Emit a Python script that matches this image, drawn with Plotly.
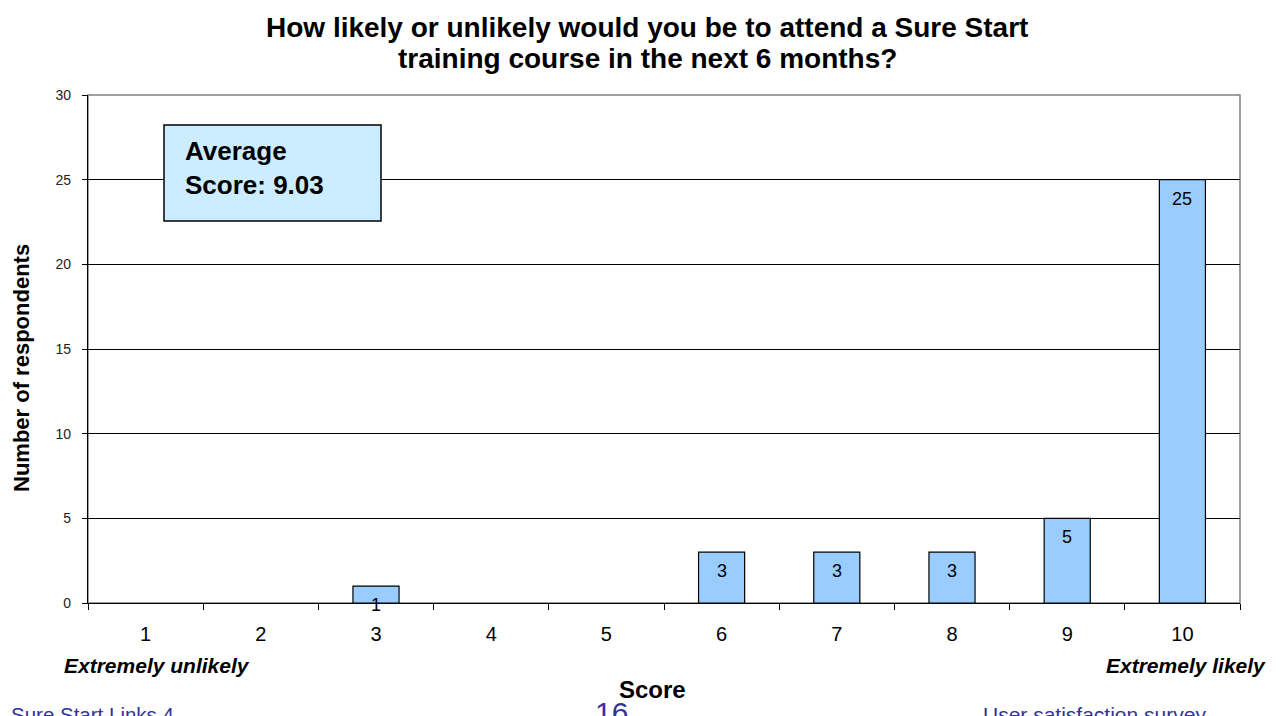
import plotly.graph_objects as go

scores = ["1", "2", "3", "4", "5", "6", "7", "8", "9", "10"]
counts = [0, 0, 1, 0, 0, 3, 3, 3, 5, 25]
y_ticks = [0, 5, 10, 15, 20, 25, 30]
title_lines = ["How likely or unlikely would you be to attend a Sure Start",
               "training course in the next 6 months?"]
average_text = "Average<br>Score: 9.03"

FONT = "Liberation Sans, Arial, sans-serif"
OFF = 8  # page body margin
L, R, T, B = 88, 1240, 95, 603   # plot area in page pixels
W, H = R - L, B - T
FIG_W, FIG_H = 1284 - OFF, 716 - OFF


def px(x):
    return (x - L) / W


def py(y):
    return (B - y) / H


fig = go.Figure()
fig.add_trace(go.Bar(
    x=scores, y=counts, width=0.4,
    marker=dict(color="#99CCFF",
                line=dict(color="#000000", width=[1.2 if c > 0 else 0 for c in counts])),
    hoverinfo="x+y",
))

# value labels (inside end)
for i, c in enumerate(counts):
    if c > 0:
        fig.add_annotation(x=i, y=c, xref="x", yref="y", text=str(c), showarrow=False,
                           yanchor="top", yshift=-7, font=dict(family=FONT, size=18, color="#000000"))

fig.update_layout(
    width=FIG_W, height=FIG_H,
    margin=dict(l=L - OFF, r=FIG_W - (R - OFF), t=T - OFF, b=FIG_H - (B - OFF), autoexpand=False),
    paper_bgcolor="#FFFFFF", plot_bgcolor="#FFFFFF",
    showlegend=False,
    font=dict(family=FONT, color="#000000"),
)

fig.update_xaxes(
    type="category", range=[-0.5, 9.5], tickson="boundaries", automargin=False,
    ticks="outside", ticklen=6, tickcolor="#000000", tickwidth=1,
    showline=True, linecolor="#000000", linewidth=1.2,
    showgrid=False, zeroline=False, ticklabelstandoff=13,
    tickfont=dict(family=FONT, size=20, color="#000000"),
)
fig.update_yaxes(
    range=[0, 30], tickvals=y_ticks, ticks="outside", ticklen=5, tickcolor="#000000", automargin=False,
    showline=True, linecolor="#000000", linewidth=1.2, ticklabelstandoff=8,
    showgrid=True, gridcolor="#000000", gridwidth=0.8, zeroline=False,
    tickfont=dict(family=FONT, size=14, color="#222222"),
)

# title
for k, line in enumerate(title_lines):
    fig.add_annotation(xref="paper", yref="paper", x=px(647), y=py(27 + 32 * k),
                       text="<b>" + line + "</b>", showarrow=False, xanchor="center", yanchor="middle",
                       font=dict(family=FONT, size=28, color="#000000"))

# y title
fig.add_annotation(xref="paper", yref="paper", x=px(22), y=py(368),
                   text="<b>Number of respondents</b>", showarrow=False, textangle=-90,
                   xanchor="center", yanchor="middle",
                   font=dict(family=FONT, size=22, color="#000000"))

# plot area border (gray)
fig.add_shape(type="rect", xref="paper", yref="paper", x0=0, x1=1, y0=0, y1=1,
              line=dict(color="#808080", width=1.5), layer="below")

# Average score box
fig.add_shape(type="rect", xref="paper", yref="paper",
              x0=px(164), x1=px(381), y0=py(221), y1=py(125),
              fillcolor="#CCECFF", line=dict(color="#000000", width=1.5), layer="above")
fig.add_annotation(xref="paper", yref="paper", x=px(183), y=py(168),
                   text="<b>" + average_text + "</b>", showarrow=False, xanchor="left", yanchor="middle",
                   align="left", font=dict(family=FONT, size=26, color="#000000"))

# axis end labels
fig.add_annotation(xref="paper", yref="paper", x=px(157), y=py(665),
                   text="<b><i>Extremely unlikely</i></b>", showarrow=False, xanchor="center", yanchor="middle",
                   font=dict(family=FONT, size=21, color="#000000"))
fig.add_annotation(xref="paper", yref="paper", x=px(1268), y=py(665),
                   text="<b><i>Extremely likely</i></b>", showarrow=False, xanchor="right", yanchor="middle",
                   font=dict(family=FONT, size=21, color="#000000"))
fig.add_annotation(xref="paper", yref="paper", x=px(652), y=py(689),
                   text="<b>Score</b>", showarrow=False, xanchor="center", yanchor="middle",
                   font=dict(family=FONT, size=24, color="#000000"))

# footer (clipped at bottom)
fig.add_annotation(xref="paper", yref="paper", x=px(9), y=py(714),
                   text="Sure Start Links 4", showarrow=False, xanchor="left", yanchor="middle",
                   font=dict(family=FONT, size=20.5, color="#333399"))
fig.add_annotation(xref="paper", yref="paper", x=px(611), y=py(712),
                   text="16", showarrow=False, xanchor="center", yanchor="middle",
                   font=dict(family=FONT, size=30, color="#333399"))
fig.add_annotation(xref="paper", yref="paper", x=px(981), y=py(714),
                   text="User satisfaction survey", showarrow=False, xanchor="left", yanchor="middle",
                   font=dict(family=FONT, size=21, color="#333399"))

fig.write_html("out.html")
